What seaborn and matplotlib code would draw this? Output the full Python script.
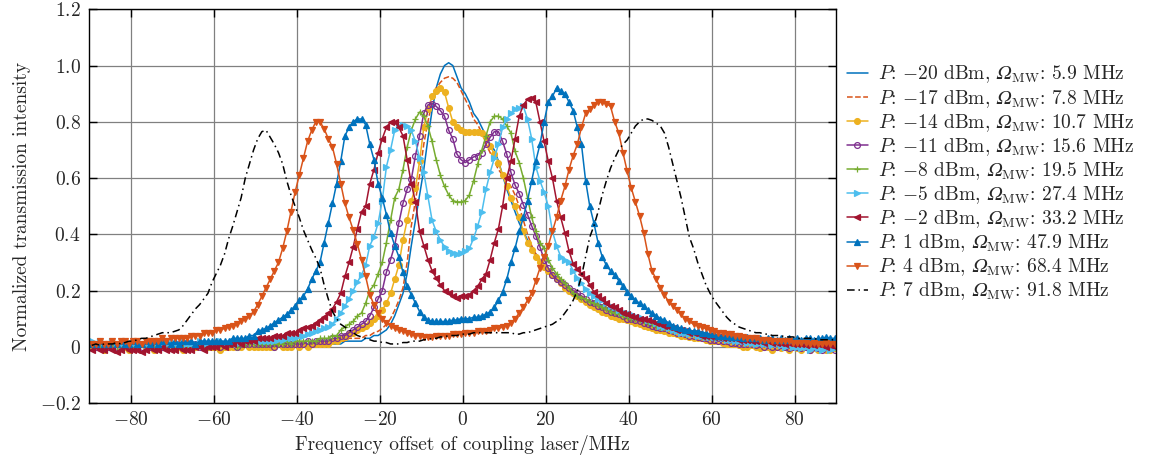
import numpy as np
import matplotlib
matplotlib.use("Agg")
import matplotlib.pyplot as plt
from matplotlib.ticker import FixedLocator, FuncFormatter
import seaborn as sns

# scan grid of the coupling laser, about 1 MHz per sample
freq = np.arange(181) - 89.35

# P = -20 dBm
p_m20 = [0.01, 0.01, 0.00, 0.01, 0.01, 0.00, 0.01, 0.01, 0.00, 0.01,
         0.01, 0.00, 0.01, 0.01, 0.00, 0.01, 0.00, 0.01, 0.01, 0.00,
         0.01, 0.00, 0.01, 0.00, 0.01, 0.01, 0.00, 0.01, 0.01, 0.01,
         0.00, 0.01, 0.01, 0.01, 0.00, 0.01, 0.01, 0.01, 0.01, 0.00,
         0.01, 0.01, 0.00, 0.01, 0.01, 0.01, 0.01, 0.01, 0.01, 0.01,
         0.01, 0.01, 0.01, 0.01, 0.01, 0.01, 0.01, 0.01, 0.01, 0.01,
         0.01, 0.02, 0.02, 0.02, 0.02, 0.02, 0.03, 0.03, 0.04, 0.04,
         0.05, 0.06, 0.08, 0.11, 0.15, 0.19, 0.26, 0.36, 0.45, 0.54,
         0.63, 0.74, 0.84, 0.92, 0.97, 1.00, 1.01, 1.00, 0.96, 0.92,
         0.90, 0.87, 0.83, 0.81, 0.78, 0.75, 0.72, 0.70, 0.66, 0.61,
         0.56, 0.52, 0.48, 0.44, 0.41, 0.38, 0.35, 0.33, 0.31, 0.29,
         0.27, 0.26, 0.25, 0.23, 0.22, 0.21, 0.20, 0.19, 0.18, 0.17,
         0.16, 0.16, 0.15, 0.14, 0.14, 0.13, 0.13, 0.12, 0.12, 0.11,
         0.11, 0.10, 0.10, 0.09, 0.09, 0.09, 0.08, 0.08, 0.08, 0.07,
         0.07, 0.07, 0.06, 0.06, 0.06, 0.05, 0.05, 0.05, 0.05, 0.04,
         0.04, 0.04, 0.04, 0.04, 0.03, 0.03, 0.03, 0.03, 0.03, 0.03,
         0.02, 0.03, 0.02, 0.02, 0.02, 0.02, 0.02, 0.01, 0.02, 0.01,
         0.01, 0.01, 0.02, 0.01, 0.01, 0.00, 0.01, 0.01, 0.00, 0.01,
         0.00]

# P = -17 dBm
p_m17 = [0.01, 0.00, 0.01, 0.01, 0.00, 0.01, 0.01, 0.00, 0.01, 0.01,
         0.00, 0.01, 0.01, 0.00, 0.01, 0.01, 0.01, 0.00, 0.01, 0.01,
         0.01, 0.00, 0.01, 0.01, 0.01, 0.00, 0.01, 0.01, 0.01, 0.01,
         0.01, 0.01, 0.00, 0.01, 0.01, 0.01, 0.01, 0.01, 0.00, 0.01,
         0.01, 0.01, 0.01, 0.01, 0.01, 0.01, 0.01, 0.01, 0.01, 0.01,
         0.01, 0.01, 0.01, 0.01, 0.01, 0.02, 0.01, 0.02, 0.02, 0.02,
         0.02, 0.02, 0.03, 0.03, 0.03, 0.03, 0.04, 0.04, 0.05, 0.055,
         0.065, 0.08, 0.10, 0.13, 0.165, 0.21, 0.30, 0.43, 0.52, 0.61,
         0.72, 0.80, 0.87, 0.92, 0.94, 0.955, 0.96, 0.955, 0.94, 0.91,
         0.88, 0.85, 0.81, 0.79, 0.76, 0.72, 0.69, 0.66, 0.63, 0.61,
         0.59, 0.57, 0.54, 0.50, 0.45, 0.40, 0.36, 0.33, 0.31, 0.29,
         0.27, 0.25, 0.24, 0.23, 0.22, 0.21, 0.20, 0.19, 0.18, 0.17,
         0.16, 0.15, 0.15, 0.14, 0.14, 0.13, 0.12, 0.12, 0.11, 0.11,
         0.10, 0.10, 0.10, 0.09, 0.09, 0.08, 0.08, 0.08, 0.07, 0.07,
         0.07, 0.06, 0.06, 0.06, 0.05, 0.05, 0.05, 0.05, 0.04, 0.04,
         0.04, 0.04, 0.03, 0.04, 0.03, 0.03, 0.03, 0.03, 0.02, 0.03,
         0.02, 0.02, 0.02, 0.02, 0.02, 0.01, 0.02, 0.01, 0.01, 0.01,
         0.01, 0.01, 0.00, 0.01, 0.01, 0.00, 0.01, 0.00, 0.01, 0.00,
         0.00]

# P = -14 dBm
p_m14 = [0.00, 0.01, 0.00, -0.01, 0.00, 0.00, 0.01, 0.00, 0.00, -0.01,
         0.00, 0.00, 0.01, 0.00, 0.00, -0.01, 0.00, 0.00, 0.00, 0.01,
         0.00, 0.00, -0.01, 0.00, 0.00, 0.00, 0.01, 0.00, 0.00, 0.00,
         0.00, -0.01, 0.00, 0.00, 0.00, 0.00, 0.00, 0.01, 0.00, 0.00,
         0.00, 0.00, 0.00, 0.00, 0.00, 0.01, 0.00, 0.00, 0.00, 0.01,
         0.00, 0.01, 0.00, 0.01, 0.01, 0.01, 0.01, 0.01, 0.02, 0.02,
         0.03, 0.035, 0.045, 0.05, 0.06, 0.065, 0.075, 0.085, 0.10, 0.11,
         0.13, 0.155, 0.19, 0.24, 0.29, 0.38, 0.45, 0.52, 0.565, 0.66,
         0.78, 0.845, 0.89, 0.91, 0.92, 0.905, 0.85, 0.80, 0.78, 0.77,
         0.765, 0.765, 0.765, 0.765, 0.76, 0.745, 0.715, 0.685, 0.655, 0.61,
         0.57, 0.53, 0.50, 0.46, 0.41, 0.37, 0.345, 0.32, 0.30, 0.285,
         0.27, 0.255, 0.24, 0.225, 0.21, 0.20, 0.19, 0.18, 0.17, 0.16,
         0.15, 0.14, 0.135, 0.125, 0.12, 0.11, 0.105, 0.10, 0.10, 0.095,
         0.09, 0.085, 0.08, 0.075, 0.07, 0.065, 0.06, 0.06, 0.055, 0.05,
         0.05, 0.045, 0.04, 0.04, 0.035, 0.03, 0.03, 0.03, 0.025, 0.02,
         0.02, 0.02, 0.015, 0.01, 0.01, 0.01, 0.005, 0.00, 0.00, 0.005,
         0.00, -0.005, 0.00, 0.00, -0.01, 0.00, -0.005, 0.00, -0.01, 0.00,
         -0.005, -0.01, 0.00, -0.01, -0.005, -0.01, 0.00, -0.01, -0.01, -0.005,
         -0.01]

# P = -11 dBm
p_m11 = [0.01, 0.00, 0.01, 0.01, 0.00, 0.01, 0.00, 0.01, 0.01, 0.00,
         0.01, 0.01, 0.00, 0.01, 0.00, 0.01, 0.01, 0.00, 0.01, 0.01,
         0.00, 0.01, 0.01, 0.00, 0.01, 0.01, 0.00, 0.01, 0.01, 0.01,
         0.01, 0.00, 0.01, 0.01, 0.01, 0.00, 0.01, 0.01, 0.01, 0.01,
         0.01, 0.01, 0.01, 0.01, 0.00, 0.01, 0.01, 0.01, 0.01, 0.01,
         0.01, 0.01, 0.02, 0.01, 0.02, 0.02, 0.02, 0.02, 0.03, 0.03,
         0.04, 0.04, 0.05, 0.06, 0.07, 0.08, 0.09, 0.11, 0.14, 0.17,
         0.20, 0.265, 0.31, 0.36, 0.44, 0.51, 0.56, 0.595, 0.68, 0.75,
         0.83, 0.86, 0.865, 0.855, 0.84, 0.82, 0.77, 0.74, 0.685, 0.665,
         0.655, 0.665, 0.675, 0.68, 0.69, 0.72, 0.745, 0.765, 0.765, 0.73,
         0.685, 0.62, 0.575, 0.545, 0.505, 0.47, 0.43, 0.395, 0.355, 0.31,
         0.28, 0.255, 0.24, 0.23, 0.22, 0.21, 0.20, 0.19, 0.18, 0.17,
         0.16, 0.155, 0.145, 0.14, 0.13, 0.125, 0.12, 0.115, 0.11, 0.10,
         0.10, 0.095, 0.09, 0.085, 0.08, 0.075, 0.07, 0.068, 0.065, 0.06,
         0.055, 0.05, 0.05, 0.045, 0.04, 0.04, 0.035, 0.03, 0.03, 0.025,
         0.025, 0.02, 0.02, 0.02, 0.015, 0.015, 0.01, 0.01, 0.01, 0.01,
         0.005, 0.01, 0.00, 0.005, 0.00, 0.00, 0.005, 0.00, -0.005, 0.00,
         0.00, -0.005, 0.00, -0.01, 0.00, -0.005, -0.01, 0.00, -0.005, -0.01,
         -0.005]

# P = -8 dBm
p_m8 = [0.01, 0.01, 0.00, 0.01, 0.01, 0.01, 0.00, 0.01, 0.01, 0.01,
        0.01, 0.00, 0.01, 0.01, 0.01, 0.01, 0.00, 0.01, 0.01, 0.00,
        0.01, 0.01, 0.01, 0.00, 0.01, 0.01, 0.01, 0.01, 0.00, 0.01,
        0.01, 0.01, 0.01, 0.01, 0.01, 0.00, 0.01, 0.01, 0.01, 0.01,
        0.01, 0.01, 0.01, 0.01, 0.01, 0.01, 0.01, 0.02, 0.01, 0.02,
        0.02, 0.02, 0.02, 0.02, 0.02, 0.03, 0.03, 0.03, 0.04, 0.04,
        0.06, 0.07, 0.08, 0.09, 0.11, 0.12, 0.155, 0.20, 0.22, 0.26,
        0.30, 0.37, 0.45, 0.53, 0.56, 0.63, 0.71, 0.77, 0.81, 0.835,
        0.82, 0.785, 0.73, 0.665, 0.61, 0.57, 0.54, 0.52, 0.515, 0.515,
        0.52, 0.54, 0.59, 0.65, 0.70, 0.75, 0.80, 0.82, 0.82, 0.81,
        0.785, 0.76, 0.695, 0.655, 0.60, 0.53, 0.46, 0.41, 0.37, 0.35,
        0.31, 0.28, 0.26, 0.24, 0.225, 0.21, 0.19, 0.18, 0.175, 0.17,
        0.16, 0.155, 0.15, 0.14, 0.135, 0.125, 0.12, 0.115, 0.11, 0.105,
        0.10, 0.10, 0.095, 0.09, 0.085, 0.08, 0.075, 0.07, 0.07, 0.065,
        0.06, 0.06, 0.055, 0.05, 0.05, 0.045, 0.045, 0.04, 0.04, 0.035,
        0.035, 0.035, 0.03, 0.03, 0.03, 0.03, 0.025, 0.03, 0.025, 0.025,
        0.025, 0.02, 0.025, 0.02, 0.025, 0.02, 0.02, 0.025, 0.02, 0.02,
        0.02, 0.025, 0.02, 0.02, 0.02, 0.015, 0.02, 0.02, 0.015, 0.02,
        0.015]

# P = -5 dBm
p_m5 = [0.02, 0.01, 0.02, 0.01, 0.01, 0.02, 0.01, 0.01, 0.02, 0.01,
        0.01, 0.02, 0.01, 0.01, 0.01, 0.02, 0.01, 0.01, 0.01, 0.02,
        0.01, 0.01, 0.02, 0.01, 0.01, 0.01, 0.02, 0.01, 0.01, 0.01,
        0.01, 0.02, 0.01, 0.01, 0.02, 0.01, 0.02, 0.02, 0.02, 0.02,
        0.02, 0.02, 0.02, 0.02, 0.02, 0.025, 0.025, 0.03, 0.03, 0.03,
        0.04, 0.04, 0.045, 0.05, 0.055, 0.06, 0.065, 0.07, 0.08, 0.10,
        0.12, 0.145, 0.17, 0.20, 0.23, 0.255, 0.29, 0.36, 0.39, 0.44,
        0.52, 0.64, 0.70, 0.77, 0.785, 0.79, 0.785, 0.77, 0.73, 0.67,
        0.62, 0.535, 0.45, 0.41, 0.38, 0.355, 0.34, 0.335, 0.33, 0.335,
        0.34, 0.35, 0.385, 0.43, 0.48, 0.56, 0.62, 0.67, 0.72, 0.78,
        0.81, 0.83, 0.845, 0.85, 0.855, 0.81, 0.74, 0.64, 0.59, 0.55,
        0.50, 0.41, 0.36, 0.32, 0.31, 0.30, 0.27, 0.245, 0.225, 0.205,
        0.19, 0.18, 0.17, 0.165, 0.155, 0.145, 0.14, 0.13, 0.125, 0.12,
        0.115, 0.11, 0.105, 0.10, 0.095, 0.09, 0.085, 0.075, 0.07, 0.065,
        0.06, 0.055, 0.05, 0.05, 0.045, 0.045, 0.04, 0.04, 0.035, 0.035,
        0.035, 0.03, 0.03, 0.025, 0.025, 0.02, 0.02, 0.02, 0.015, 0.015,
        0.01, 0.015, 0.01, 0.01, 0.005, 0.01, 0.005, 0.00, 0.005, 0.00,
        0.00, -0.005, 0.00, -0.01, 0.00, -0.005, -0.01, -0.005, -0.01, -0.005,
        -0.01]

# P = -2 dBm
p_m2 = [-0.01, 0.00, -0.01, -0.01, 0.00, -0.01, -0.02, -0.01, 0.00, -0.01,
        -0.01, -0.01, -0.02, -0.01, 0.00, -0.01, -0.01, 0.00, -0.01, -0.01,
        -0.01, 0.00, -0.01, -0.01, -0.01, 0.00, 0.00, -0.01, 0.00, 0.00,
        0.00, 0.01, 0.00, 0.01, 0.01, 0.02, 0.01, 0.02, 0.02, 0.02,
        0.03, 0.03, 0.03, 0.03, 0.04, 0.04, 0.04, 0.05, 0.05, 0.05,
        0.06, 0.065, 0.07, 0.075, 0.085, 0.095, 0.105, 0.12, 0.135, 0.16,
        0.19, 0.25, 0.30, 0.355, 0.42, 0.48, 0.50, 0.58, 0.63, 0.69,
        0.74, 0.78, 0.80, 0.80, 0.78, 0.75, 0.665, 0.58, 0.515, 0.41,
        0.36, 0.31, 0.27, 0.245, 0.22, 0.20, 0.19, 0.18, 0.175, 0.18,
        0.18, 0.185, 0.20, 0.215, 0.24, 0.26, 0.31, 0.37, 0.42, 0.50,
        0.60, 0.66, 0.74, 0.82, 0.86, 0.88, 0.885, 0.87, 0.80, 0.73,
        0.66, 0.60, 0.52, 0.46, 0.405, 0.34, 0.295, 0.275, 0.26, 0.245,
        0.22, 0.195, 0.18, 0.17, 0.155, 0.145, 0.14, 0.13, 0.12, 0.115,
        0.11, 0.105, 0.10, 0.10, 0.095, 0.09, 0.085, 0.08, 0.075, 0.07,
        0.065, 0.06, 0.06, 0.055, 0.05, 0.05, 0.045, 0.04, 0.04, 0.04,
        0.035, 0.035, 0.03, 0.03, 0.03, 0.03, 0.025, 0.025, 0.025, 0.02,
        0.02, 0.02, 0.015, 0.02, 0.015, 0.015, 0.015, 0.01, 0.015, 0.01,
        0.01, 0.01, 0.005, 0.01, 0.005, 0.01, 0.005, 0.00, 0.005, 0.00,
        0.00]

# P = 1 dBm
p_1 = [0.01, 0.01, 0.02, 0.01, 0.01, 0.02, 0.01, 0.02, 0.01, 0.01,
       0.02, 0.01, 0.01, 0.02, 0.01, 0.02, 0.01, 0.02, 0.02, 0.01,
       0.02, 0.01, 0.02, 0.02, 0.02, 0.01, 0.02, 0.02, 0.02, 0.02,
       0.02, 0.02, 0.02, 0.02, 0.03, 0.03, 0.03, 0.03, 0.04, 0.04,
       0.055, 0.06, 0.065, 0.075, 0.085, 0.095, 0.105, 0.115, 0.13, 0.145,
       0.165, 0.18, 0.205, 0.24, 0.27, 0.30, 0.37, 0.44, 0.51, 0.58,
       0.66, 0.75, 0.78, 0.80, 0.81, 0.81, 0.79, 0.72, 0.665, 0.58,
       0.53, 0.47, 0.405, 0.36, 0.32, 0.265, 0.215, 0.185, 0.155, 0.125,
       0.105, 0.095, 0.09, 0.09, 0.09, 0.09, 0.09, 0.095, 0.095, 0.10,
       0.10, 0.10, 0.105, 0.105, 0.11, 0.115, 0.125, 0.14, 0.165, 0.195,
       0.24, 0.30, 0.35, 0.41, 0.46, 0.52, 0.59, 0.66, 0.72, 0.80,
       0.87, 0.89, 0.92, 0.91, 0.90, 0.87, 0.84, 0.78, 0.72, 0.59,
       0.50, 0.44, 0.37, 0.32, 0.29, 0.27, 0.255, 0.235, 0.215, 0.195,
       0.18, 0.165, 0.155, 0.145, 0.13, 0.12, 0.11, 0.10, 0.095, 0.085,
       0.075, 0.07, 0.065, 0.06, 0.06, 0.055, 0.055, 0.05, 0.05, 0.045,
       0.045, 0.04, 0.04, 0.04, 0.035, 0.035, 0.035, 0.03, 0.035, 0.03,
       0.03, 0.03, 0.025, 0.03, 0.03, 0.025, 0.03, 0.025, 0.03, 0.025,
       0.03, 0.025, 0.03, 0.03, 0.025, 0.03, 0.03, 0.035, 0.03, 0.03,
       0.03]

# P = 4 dBm
p_4 = [0.01, 0.01, 0.02, 0.01, 0.01, 0.02, 0.01, 0.02, 0.02, 0.01,
       0.02, 0.02, 0.01, 0.02, 0.02, 0.02, 0.02, 0.03, 0.02, 0.03,
       0.03, 0.03, 0.03, 0.03, 0.04, 0.04, 0.04, 0.05, 0.05, 0.05,
       0.06, 0.06, 0.065, 0.07, 0.075, 0.08, 0.09, 0.10, 0.11, 0.125,
       0.15, 0.18, 0.21, 0.24, 0.27, 0.30, 0.35, 0.41, 0.48, 0.55,
       0.61, 0.67, 0.73, 0.77, 0.80, 0.80, 0.775, 0.74, 0.71, 0.65,
       0.58, 0.51, 0.46, 0.415, 0.365, 0.31, 0.25, 0.185, 0.15, 0.12,
       0.10, 0.085, 0.075, 0.065, 0.06, 0.055, 0.05, 0.045, 0.04, 0.04,
       0.035, 0.035, 0.035, 0.04, 0.04, 0.04, 0.04, 0.045, 0.045, 0.045,
       0.05, 0.05, 0.05, 0.055, 0.055, 0.055, 0.06, 0.065, 0.065, 0.07,
       0.075, 0.085, 0.10, 0.12, 0.14, 0.165, 0.19, 0.235, 0.28, 0.32,
       0.36, 0.41, 0.46, 0.52, 0.57, 0.63, 0.68, 0.72, 0.78, 0.83,
       0.845, 0.86, 0.87, 0.87, 0.865, 0.855, 0.80, 0.76, 0.69, 0.625,
       0.565, 0.515, 0.465, 0.405, 0.33, 0.27, 0.24, 0.21, 0.185, 0.16,
       0.145, 0.13, 0.115, 0.10, 0.09, 0.08, 0.075, 0.07, 0.065, 0.06,
       0.055, 0.05, 0.05, 0.045, 0.045, 0.04, 0.04, 0.035, 0.03, 0.03,
       0.03, 0.025, 0.025, 0.025, 0.02, 0.02, 0.02, 0.02, 0.02, 0.015,
       0.015, 0.015, 0.015, 0.01, 0.015, 0.01, 0.01, 0.015, 0.01, 0.01,
       0.01]

# P = 7 dBm
p_7 = [0.005, 0.01, 0.005, 0.01, 0.01, 0.01, 0.015, 0.01, 0.015, 0.02,
       0.02, 0.025, 0.03, 0.03, 0.035, 0.04, 0.045, 0.05, 0.05, 0.05,
       0.055, 0.06, 0.075, 0.095, 0.115, 0.135, 0.15, 0.17, 0.19, 0.23,
       0.26, 0.29, 0.33, 0.385, 0.43, 0.48, 0.53, 0.60, 0.65, 0.70,
       0.74, 0.765, 0.77, 0.745, 0.72, 0.69, 0.65, 0.59, 0.54, 0.50,
       0.46, 0.415, 0.38, 0.345, 0.315, 0.28, 0.22, 0.17, 0.125, 0.10,
       0.08, 0.07, 0.06, 0.05, 0.04, 0.035, 0.03, 0.025, 0.02, 0.02,
       0.015, 0.015, 0.01, 0.01, 0.01, 0.015, 0.015, 0.02, 0.02, 0.02,
       0.025, 0.025, 0.03, 0.03, 0.035, 0.035, 0.04, 0.04, 0.04, 0.045,
       0.045, 0.045, 0.05, 0.05, 0.05, 0.05, 0.05, 0.05, 0.05, 0.05,
       0.05, 0.05, 0.045, 0.045, 0.05, 0.05, 0.055, 0.06, 0.065, 0.07,
       0.075, 0.08, 0.09, 0.10, 0.12, 0.14, 0.165, 0.20, 0.25, 0.32,
       0.39, 0.43, 0.48, 0.54, 0.59, 0.635, 0.67, 0.70, 0.72, 0.735,
       0.76, 0.785, 0.80, 0.81, 0.81, 0.805, 0.795, 0.785, 0.76, 0.71,
       0.65, 0.59, 0.53, 0.46, 0.39, 0.35, 0.30, 0.26, 0.22, 0.19,
       0.165, 0.145, 0.125, 0.105, 0.09, 0.08, 0.07, 0.065, 0.06, 0.055,
       0.05, 0.05, 0.045, 0.045, 0.04, 0.04, 0.04, 0.035, 0.035, 0.035,
       0.03, 0.03, 0.03, 0.03, 0.03, 0.025, 0.025, 0.025, 0.025, 0.025,
       0.025]

powers = ["-20", "-17", "-14", "-11", "-8", "-5", "-2", "1", "4", "7"]
omega_mw = ["5.9", "7.8", "10.7", "15.6", "19.5", "27.4", "33.2", "47.9", "68.4", "91.8"]
series = [p_m20, p_m17, p_m14, p_m11, p_m8, p_m5, p_m2, p_1, p_4, p_7]

colors = ["#0072BD", "#D95319", "#EDB120", "#7E2F8E", "#77AC30",
          "#4DBEEE", "#A2142F", "#0072BD", "#D95319", "black"]
markers = [None, None, "o", "o", "+", ">", "<", "^", "v", None]
lstyles = ["-", "--", "-", "-", "-", "-", "-", "-", "-", (0, (5, 2.5, 1, 2.5))]

sns.set_style("ticks")
plt.rcParams.update({
    "font.family": "serif",
    "font.serif": ["cmr10"],
    "mathtext.fontset": "cm",
    "axes.unicode_minus": False,
    "font.size": 14,
})

fig = plt.figure(figsize=(11.7, 4.61), dpi=100)
ax = fig.add_axes([0.0761, 0.1258, 0.6385, 0.854])

for i, vals in enumerate(series):
    # italic capital omega (U+1D6FA)
    label = ("$P$: $%s$ dBm, $\U0001D6FA_{\\mathrm{MW}}$: %s MHz"
             % (powers[i], omega_mw[i]))
    kw = dict(color=colors[i], linestyle=lstyles[i], linewidth=1.1)
    m = markers[i]
    if m is not None:
        kw.update(marker=m, markersize=4.2, markeredgecolor=colors[i],
                  markeredgewidth=0.9)
        if i == 3:
            kw["markerfacecolor"] = "none"
        else:
            kw["markerfacecolor"] = colors[i]
    sns.lineplot(x=freq, y=vals, ax=ax, label=label, **kw)

ax.set_xlim(-90, 90)
ax.set_ylim(-0.2, 1.2)
ax.xaxis.set_major_locator(FixedLocator([-80, -60, -40, -20, 0, 20, 40, 60, 80]))
ax.yaxis.set_major_locator(FixedLocator([-0.2, 0, 0.2, 0.4, 0.6, 0.8, 1.0, 1.2]))
ax.xaxis.set_major_formatter(FuncFormatter(lambda v, p: "$%d$" % v))
ax.yaxis.set_major_formatter(
    FuncFormatter(lambda v, p: "$0$" if abs(v) < 1e-9 else "$%.1f$" % v))
ax.grid(True, color="#808080", linewidth=0.9)
ax.tick_params(direction="in", length=6, width=1.0, color="black",
               top=True, right=True, labelsize=14, pad=6)
for s in ax.spines.values():
    s.set_color("black")
    s.set_linewidth(1.0)

ax.set_xlabel("Frequency offset of coupling laser/MHz", fontsize=14, labelpad=4)
ax.set_ylabel("Normalized transmission intensity", fontsize=14, labelpad=6)

ax.legend(loc="upper left", bbox_to_anchor=(1.015, 0.862), frameon=False,
          fontsize=14, handlelength=1.05, handletextpad=0.55,
          labelspacing=0.12, borderpad=0, borderaxespad=0)

fig.savefig("out.png", dpi=100)
